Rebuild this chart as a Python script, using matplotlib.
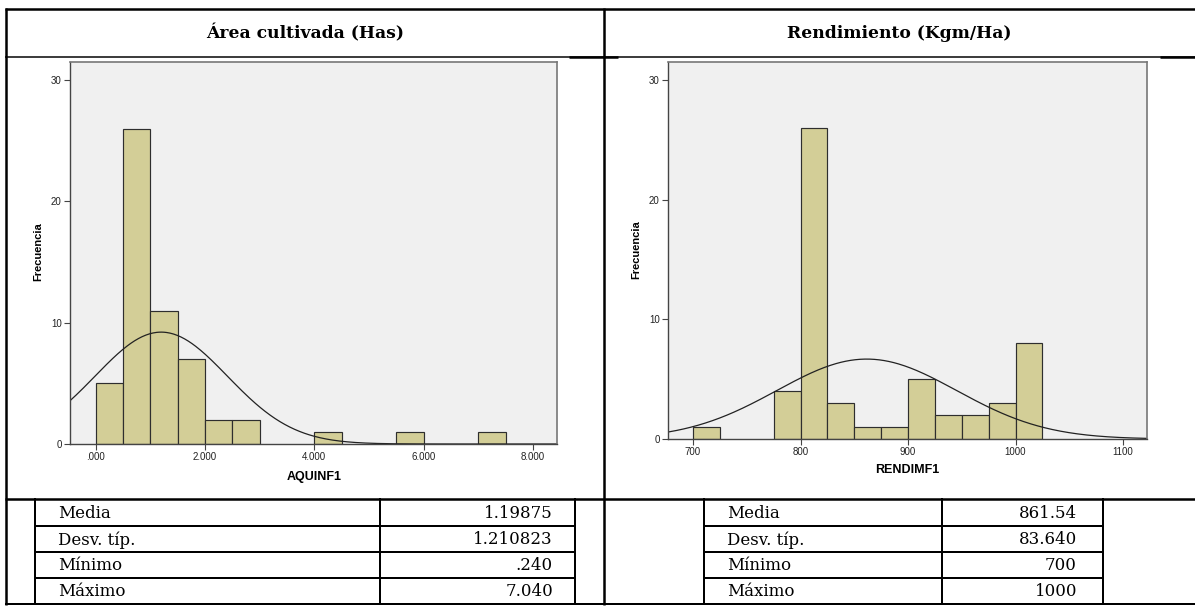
import numpy as np
import matplotlib
matplotlib.use('Agg')
import matplotlib.pyplot as plt

W, H = 1195, 606

# histogram data
area_bin_starts = [0.0, 0.5, 1.0, 1.5, 2.0, 2.5, 4.0, 5.5, 7.0]
area_counts = [5, 26, 11, 7, 2, 2, 1, 1, 1]
area_bin_width = 0.5
area_ticks = [0, 2, 4, 6, 8]
area_tick_labels = ['.000', '2.000', '4.000', '6.000', '8.000']

rend_bin_starts = [700, 775, 800, 825, 850, 875, 900, 925, 950, 975, 1000]
rend_counts = [1, 4, 26, 3, 1, 1, 5, 2, 2, 3, 8]
rend_bin_width = 25
rend_ticks = [700, 800, 900, 1000, 1100]
rend_tick_labels = ['700', '800', '900', '1000', '1100']

freq_ticks = [0, 10, 20, 30]

headers = ['Área cultivada (Has)', 'Rendimiento (Kgm/Ha)']
stat_names = ['Media', 'Desv. típ.', 'Mínimo', 'Máximo']
area_stats = ['1.19875', '1.210823', '.240', '7.040']
rend_stats = ['861.54', '83.640', '700', '1000']
area_mean, area_sd = 1.19875, 1.210823
rend_mean, rend_sd = 861.54, 83.640


def pt(pixels):
    return pixels * 72 / 100


fig = plt.figure(figsize=(W / 100, H / 100), dpi=100)
bg = fig.add_axes([0, 0, 1, 1])
bg.set_xlim(0, W)
bg.set_ylim(H, 0)
bg.axis('off')


def line(x0, y0, x1, y1, w=1.5):
    bg.plot([x0, x1], [y0, y1], color='black', lw=pt(w), solid_capstyle='butt')


# outer frame of the document table
line(5, 9, W, 9, 2.5)
line(6, 8, 6, 605, 2.5)
line(604, 8, 604, 605, 2.5)
line(5, 56.5, W, 56.5, 1.5)
line(569, 57, 618, 57, 2.5)
line(1160, 57, W, 57, 2.5)
line(5, 498.5, W, 498.5, 2.5)
line(5, 604, W, 604, 2)

bg.text(305, 33, headers[0], ha='center', va='center', fontsize=12.3,
        fontweight='bold', family='DejaVu Serif')
bg.text(899, 33, headers[1], ha='center', va='center', fontsize=12.3,
        fontweight='bold', family='DejaVu Serif')


def stats_table(x0, xmid, x1, lab_x, val_x, values):
    rows = [498.5, 526, 552, 578, 604]
    for y in rows[1:-1]:
        line(x0, y, x1, y, 2)
    line(x0, 498, x0, 604, 2)
    line(xmid, 498, xmid, 604, 2)
    line(x1, 498, x1, 604, 2)
    for i, (name, val) in enumerate(zip(stat_names, values)):
        yc = (rows[i] + rows[i + 1]) / 2 + 1
        bg.text(lab_x, yc, name, ha='left', va='center', fontsize=12, family='DejaVu Serif')
        bg.text(val_x, yc, val, ha='right', va='center', fontsize=12, family='DejaVu Serif')


stats_table(35, 380, 575, 58, 553, area_stats)
stats_table(704, 942, 1103, 727, 1077, rend_stats)


def hist_panel(box, starts, counts, width, mean, sd, xlim, ticks, labels):
    left, top, right, bottom = box
    ax = fig.add_axes([left / W, 1 - bottom / H, (right - left) / W, (bottom - top) / H])
    ax.set_facecolor('#F0F0F0')
    ax.bar(starts, counts, width=width, align='edge', color='#D3CE97',
           edgecolor='#2E2E2E', linewidth=0.85)
    xs = np.linspace(xlim[0], xlim[1], 400)
    n = sum(counts)
    curve = n * width * np.exp(-0.5 * ((xs - mean) / sd) ** 2) / (sd * np.sqrt(2 * np.pi))
    ax.plot(xs, curve, color='#222222', lw=0.9)
    ax.set_xlim(xlim)
    ax.set_ylim(0, 31.5)
    ax.set_xticks(ticks)
    ax.set_xticklabels(labels)
    ax.set_yticks(freq_ticks)
    for s in ['left', 'bottom']:
        ax.spines[s].set_color('#444444')
        ax.spines[s].set_linewidth(1.0)
    for s in ['top', 'right']:
        ax.spines[s].set_color('#777777')
        ax.spines[s].set_linewidth(1.2)
    ax.tick_params(direction='out', length=4, width=0.8, color='#444444',
                   labelsize=7, labelcolor='#222222', pad=2)
    for lab in ax.get_xticklabels() + ax.get_yticklabels():
        lab.set_family('Liberation Sans')
    return ax


hist_panel((70, 62, 557, 444), area_bin_starts, area_counts, area_bin_width,
           area_mean, area_sd, (-0.47, 8.44), area_ticks, area_tick_labels)
hist_panel((668, 62, 1147, 439), rend_bin_starts, rend_counts, rend_bin_width,
           rend_mean, rend_sd, (676.7, 1122.3), rend_ticks, rend_tick_labels)

bg.text(38, 252, 'Frecuencia', rotation=90, ha='center', va='center', fontsize=8,
        fontweight='bold', family='Liberation Sans')
bg.text(636, 250, 'Frecuencia', rotation=90, ha='center', va='center', fontsize=8,
        fontweight='bold', family='Liberation Sans')
bg.text(314, 477, 'AQUINF1', ha='center', va='center', fontsize=9,
        fontweight='bold', family='Liberation Sans')
bg.text(907, 470, 'RENDIMF1', ha='center', va='center', fontsize=9,
        fontweight='bold', family='Liberation Sans')

fig.savefig('out.png', dpi=100)
